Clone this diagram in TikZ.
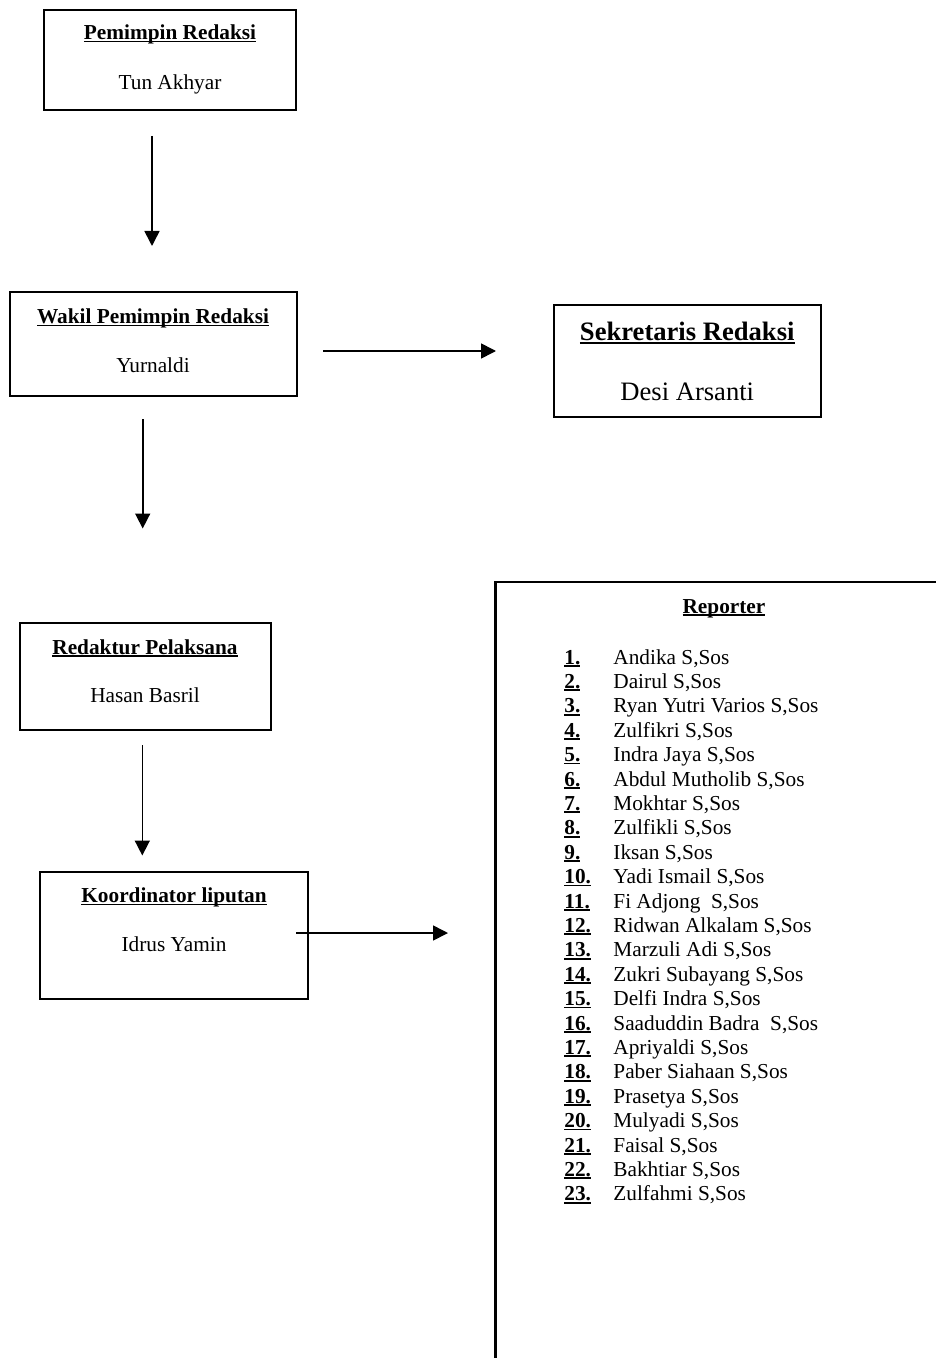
\documentclass[tikz,border=0pt]{standalone}
\usepackage{fontspec}
\setmainfont{Liberation Serif}
\usetikzlibrary{arrows.meta}
\newcommand\wul[1]{\setbox0\hbox{#1}\rlap{\rule[-0.13em]{\wd0}{0.08em}}\box0}
\begin{document}
\begin{tikzpicture}[x=0.5pt,y=-0.5pt,
  box/.style={draw, line width=1pt, rectangle, inner sep=0pt},
  ttl/.style={anchor=base, inner sep=0pt, font=\fontsize{10.65}{12}\selectfont\bfseries},
  nm/.style={anchor=base, inner sep=0pt, font=\fontsize{10.65}{12}\selectfont},
  bigttl/.style={anchor=base, inner sep=0pt, font=\fontsize{13.3}{15}\selectfont\bfseries},
  bignm/.style={anchor=base, inner sep=0pt, font=\fontsize{13.3}{15}\selectfont},
  conn/.style={line width=0.8pt, -{Triangle[width=7.5pt,length=7.5pt]}},
  numtxt/.style={anchor=base west, inner sep=0pt, font=\fontsize{10.65}{12}\selectfont\bfseries},
  itemtxt/.style={anchor=base west, inner sep=0pt, font=\fontsize{10.65}{12}\selectfont},
]
\useasboundingbox (0,0) rectangle (936,1358);
\fill[white] (0,0) rectangle (936,1358);

% boxes
\node[box, minimum width=126pt, minimum height=50pt] (pr) at (170,60) {};
\node[ttl] (prT) at (170,39.5) {\wul{Pemimpin Redaksi}};
\node[nm] (prN) at (170,89.5) {Tun Akhyar};

\node[box, minimum width=143.5pt, minimum height=51.5pt] (wpr) at (153,344) {};
\node[ttl] (wprT) at (153,323.5) {\wul{Wakil Pemimpin Redaksi}};
\node[nm] (wprN) at (153,372.5) {Yurnaldi};

\node[box, minimum width=133.75pt, minimum height=56pt] (sek) at (687.25,361) {};
\node[bigttl] (sekT) at (687.25,341) {\wul{Sekretaris Redaksi}};
\node[bignm] (sekN) at (687.25,400) {Desi Arsanti};

\node[box, minimum width=125.5pt, minimum height=53.75pt] (rp) at (145,676.25) {};
\node[ttl] (rpT) at (145,654) {\wul{Redaktur Pelaksana}};
\node[nm] (rpN) at (145,702.5) {Hasan Basril};

\node[box, minimum width=134pt, minimum height=63.5pt] (kl) at (174,935.5) {};
\node[ttl] (klT) at (174,902.5) {\wul{Koordinator liputan}};
\node[nm] (klN) at (174,951.5) {Idrus Yamin};

% reporter box (open to the right and bottom)
\coordinate (repBL) at (495.5,1358);
\coordinate (repTL) at (495.5,582);
\coordinate (repTR) at (936,582);
\draw[line width=1.1pt] (repBL) -- (repTL) -- (repTR);
\node[ttl] (repT) at (724,613) {\wul{Reporter}};

\foreach \name [count=\i] in {{Andika S,Sos},{Dairul S,Sos},{Ryan Yutri Varios S,Sos},{Zulfikri S,Sos},{Indra Jaya S,Sos},{Abdul Mutholib S,Sos},{Mokhtar S,Sos},{Zulfikli S,Sos},{Iksan S,Sos},{Yadi Ismail S,Sos},{Fi Adjong\ \ S,Sos},{Ridwan Alkalam S,Sos},{Marzuli Adi S,Sos},{Zukri Subayang S,Sos},{Delfi Indra S,Sos},{Saaduddin Badra\ \ S,Sos},{Apriyaldi S,Sos},{Paber Siahaan S,Sos},{Prasetya S,Sos},{Mulyadi S,Sos},{Faisal S,Sos},{Bakhtiar S,Sos},{Zulfahmi S,Sos}}{
  \node[numtxt] (num\i) at (564,{664+(\i-1)*24.4}) {\wul{\i.}};
  \node[itemtxt] (rep\i) at (613,{664+(\i-1)*24.4}) {\name};
}

% connectors
\coordinate (a1s) at (152,136);   \coordinate (a1e) at (152,246);
\coordinate (a2s) at (323,351);   \coordinate (a2e) at (496,351);
\coordinate (a3s) at (142.7,419); \coordinate (a3e) at (142.7,528.5);
\coordinate (a4s) at (142.3,745); \coordinate (a4e) at (142.3,855.5);
\coordinate (a5s) at (296,933);   \coordinate (a5e) at (448,933);
\draw[conn] (a1s) -- (a1e);
\draw[conn] (a2s) -- (a2e);
\draw[conn] (a3s) -- (a3e);
\draw[conn] (a4s) -- (a4e);
\draw[conn] (a5s) -- (a5e);
\end{tikzpicture}
\end{document}
